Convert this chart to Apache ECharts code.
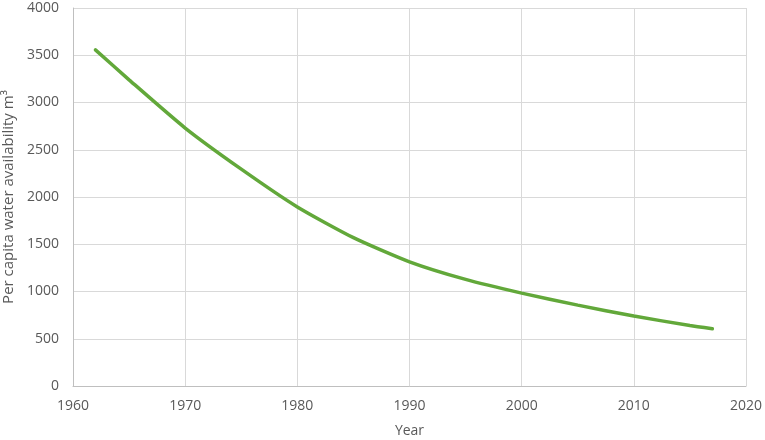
<!DOCTYPE html>
<html>
<head>
<meta charset="utf-8">
<script src="https://cdn.jsdelivr.net/npm/echarts@6/dist/echarts.min.js"></script>
<style>html,body{margin:0;padding:0;background:#fff;}#c{width:765px;height:440px;}</style>
</head>
<body>
<div id="c"></div>
<script>
const years = [1962, 1965, 1970, 1975, 1980, 1985, 1990, 1995, 2000, 2005, 2010, 2015, 2017];
const values = [3557, 3240, 2730, 2295, 1895, 1570, 1314, 1128, 983, 856, 740, 640, 606];
const xTicks = [1960, 1970, 1980, 1990, 2000, 2010, 2020];
const yTicks = [0, 500, 1000, 1500, 2000, 2500, 3000, 3500, 4000];

const chart = echarts.init(document.getElementById('c'), null, {renderer: 'canvas'});
const font = 'Open Sans';
chart.setOption({
  animation: false,
  grid: {left: 73, right: 19, top: 8, bottom: 54, containLabel: false, outerBoundsMode: 'none'},
  xAxis: {
    type: 'value', min: xTicks[0], max: xTicks[xTicks.length - 1], interval: 10,
    name: 'Year', nameLocation: 'middle', nameGap: 38,
    nameTextStyle: {color: '#595959', fontSize: 14, fontFamily: font},
    axisLine: {show: true, lineStyle: {color: '#bfbfbf', width: 1}},
    axisTick: {show: false},
    axisLabel: {color: '#595959', fontSize: 14, fontFamily: font, margin: 13, formatter: v => String(v)},
    splitLine: {show: true, lineStyle: {color: '#d9d9d9', width: 1}}
  },
  yAxis: {
    type: 'value', min: yTicks[0], max: yTicks[yTicks.length - 1], interval: 500,
    name: 'Per capita water availability m³', nameLocation: 'middle', nameGap: 56,
    nameTextStyle: {color: '#595959', fontSize: 15, fontFamily: font},
    axisLine: {show: true, lineStyle: {color: '#bfbfbf', width: 1}},
    axisTick: {show: false},
    axisLabel: {color: '#595959', fontSize: 14, fontFamily: font, margin: 14, formatter: v => String(v)},
    splitLine: {show: true, lineStyle: {color: '#d9d9d9', width: 1}}
  },
  series: [{
    type: 'line',
    data: years.map((y, i) => [y, values[i]]),
    smooth: 0.2,
    showSymbol: false,
    lineStyle: {color: '#62a83a', width: 3.5, cap: 'round'}
  }]
});
</script>
</body>
</html>
